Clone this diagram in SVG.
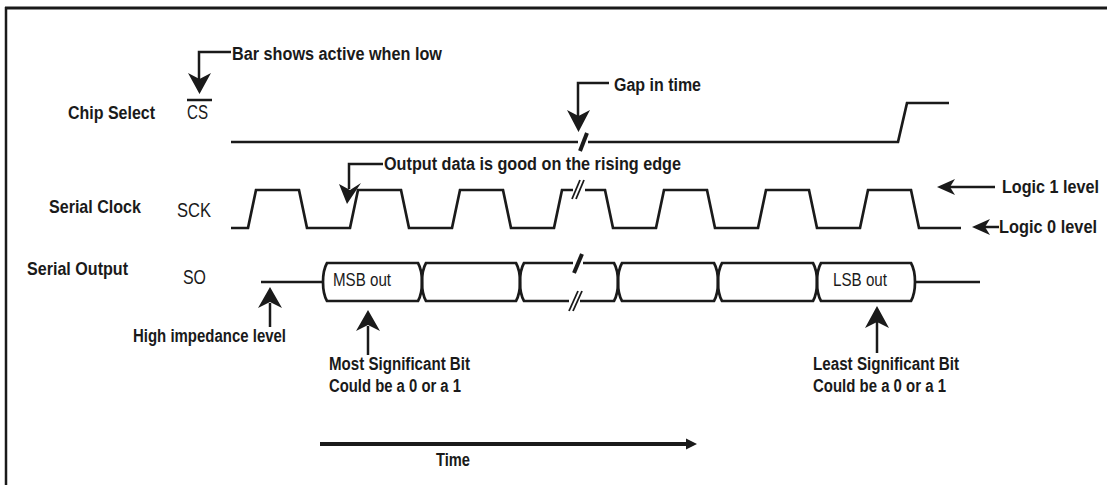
<svg xmlns="http://www.w3.org/2000/svg" width="1107" height="485" viewBox="0 0 1107 485">
<style>
  text { font-family: "Liberation Sans", Arial, sans-serif; fill: #1a1a1a; }
  .lbl { font-weight: bold; font-size: 19px; }
  .ann { font-weight: bold; font-size: 17.5px; }
  .sig { font-weight: normal; font-size: 20px; }
  .dat { font-weight: normal; font-size: 18px; }
  .wave { fill: none; stroke: #1a1a1a; stroke-width: 2.7; stroke-linejoin: miter; }
  .stem { fill: none; stroke: #1a1a1a; stroke-width: 2.5; }
  .head { fill: #1a1a1a; stroke: none; }
  .slash { stroke: #1a1a1a; stroke-width: 4; }
  .dslash { stroke: #1a1a1a; stroke-width: 1.8; }
</style>
<rect width="1107" height="485" fill="#ffffff"/>
<g id="frame">
  <line x1="5" y1="8" x2="1107" y2="8" stroke="#1a1a1a" stroke-width="3"/>
  <line x1="6" y1="7" x2="6" y2="485" stroke="#1a1a1a" stroke-width="2.5"/>
</g>

<g id="labels">
  <text class="lbl" x="68" y="119" textLength="87" lengthAdjust="spacingAndGlyphs">Chip Select</text>
  <text class="lbl" x="49" y="213" textLength="92" lengthAdjust="spacingAndGlyphs">Serial Clock</text>
  <text class="lbl" x="27" y="275" textLength="101" lengthAdjust="spacingAndGlyphs">Serial Output</text>
  <text class="sig" x="187" y="119" textLength="21" lengthAdjust="spacingAndGlyphs">CS</text>
  <line x1="187" y1="100" x2="212" y2="100" stroke="#1a1a1a" stroke-width="2.5"/>
  <text class="sig" x="177" y="217" textLength="34" lengthAdjust="spacingAndGlyphs">SCK</text>
  <text class="sig" x="183" y="284" textLength="23" lengthAdjust="spacingAndGlyphs">SO</text>
</g>

<g id="cs-wave">
  <path class="wave" d="M231,142 H578 M588,142 H898 L907,103 H949"/>
  <line class="slash" x1="587" y1="133" x2="580" y2="151"/>
</g>

<g id="sck-wave">
  <path class="wave" d="M231,228 H248 L256,190 H299 L307,228 H350 L358,190 H401 L409,228 H452 L460,190 H503 L511,228 H554 L562,190 H573 M585,190 H605 L613,228 H656 L664,190 H707 L715,228 H758 L766,190 H809 L817,228 H860 L868,190 H911 L919,228 H961"/>
  <line class="dslash" x1="580" y1="180" x2="572" y2="199"/>
  <line class="dslash" x1="584" y1="180" x2="576" y2="199"/>
</g>

<g id="so-wave">
  <path class="wave" d="M261,282 H323"/>
  <path class="wave" d="M915,282 H980"/>
  <g id="bit-msb">
    <path class="wave" d="M327,263 H418 Q422,270 422,282 Q422,294 418,301 H327 Q323,294 323,282 Q323,270 327,263 Z"/>
    <text class="dat" x="333" y="286" textLength="58" lengthAdjust="spacingAndGlyphs">MSB out</text>
  </g>
  <g id="bit-2">
    <path class="wave" d="M426,263 H516 Q520,270 520,282 Q520,294 516,301 H426 Q422,294 422,282 Q422,270 426,263 Z"/>
  </g>
  <g id="bit-gap">
    <path class="wave" d="M573,263 H524 Q520,270 520,282 Q520,294 524,301 H569"/>
    <path class="wave" d="M583,263 H614 Q618,270 618,282 Q618,294 614,301 H580"/>
    <line class="slash" x1="582" y1="254" x2="574" y2="273"/>
    <line class="dslash" x1="578" y1="291" x2="569" y2="311"/>
    <line class="dslash" x1="582" y1="291" x2="573" y2="311"/>
  </g>
  <g id="bit-4">
    <path class="wave" d="M622,263 H714 Q718,270 718,282 Q718,294 714,301 H622 Q618,294 618,282 Q618,270 622,263 Z"/>
  </g>
  <g id="bit-5">
    <path class="wave" d="M722,263 H813 Q817,270 817,282 Q817,294 813,301 H722 Q718,294 718,282 Q718,270 722,263 Z"/>
  </g>
  <g id="bit-lsb">
    <path class="wave" d="M821,263 H911 Q915,270 915,282 Q915,294 911,301 H821 Q817,294 817,282 Q817,270 821,263 Z"/>
    <text class="dat" x="833" y="286" textLength="54" lengthAdjust="spacingAndGlyphs">LSB out</text>
  </g>
</g>

<g id="connectors">
  <path class="stem" d="M231,52 H199 V80"/>
  <polygon class="head" points="188,73 199.5,79 211,73 199.5,94"/>
  <path class="stem" d="M609,83 H578 V116"/>
  <polygon class="head" points="567,110 578.5,116 590,110 578.5,132"/>
  <path class="stem" d="M383,164 H349 V189"/>
  <polygon class="head" points="339,184 350,190 361,183 347,204"/>
  <path class="stem" d="M995,187 H948"/>
  <polygon class="head" points="937,187 955,179 950,187 955,195"/>
  <path class="stem" d="M999,227 H982"/>
  <polygon class="head" points="972,227 990,219 985,227 990,235"/>
  <path class="stem" d="M270,303 V327"/>
  <polygon class="head" points="258,308 270,302 282,308 270,287"/>
  <path class="stem" d="M368,326 V355"/>
  <polygon class="head" points="356,331 368,325 380,331 368,310"/>
  <path class="stem" d="M877,322 V353"/>
  <polygon class="head" points="865,328 877,322 889,328 877,306"/>
  <line x1="320" y1="444" x2="688" y2="444" stroke="#1a1a1a" stroke-width="4"/>
  <polygon class="head" points="686,438.5 697,444 686,449.5"/>
</g>

<g id="annotations">
  <text class="ann" x="232" y="60" textLength="210" lengthAdjust="spacingAndGlyphs">Bar shows active when low</text>
  <text class="ann" x="614" y="91" textLength="87" lengthAdjust="spacingAndGlyphs">Gap in time</text>
  <text class="ann" x="384" y="170" textLength="297" lengthAdjust="spacingAndGlyphs">Output data is good on the rising edge</text>
  <text class="ann" x="1002" y="193" textLength="97" lengthAdjust="spacingAndGlyphs">Logic 1 level</text>
  <text class="ann" x="999" y="233" textLength="98" lengthAdjust="spacingAndGlyphs">Logic 0 level</text>
  <text class="ann" x="133" y="342" textLength="153" lengthAdjust="spacingAndGlyphs">High impedance level</text>
  <text class="ann" x="329" y="370" textLength="141" lengthAdjust="spacingAndGlyphs">Most Significant Bit</text>
  <text class="ann" x="329" y="392" textLength="132" lengthAdjust="spacingAndGlyphs">Could be a 0 or a 1</text>
  <text class="ann" x="813" y="370" textLength="146" lengthAdjust="spacingAndGlyphs">Least Significant Bit</text>
  <text class="ann" x="813" y="392" textLength="133" lengthAdjust="spacingAndGlyphs">Could be a 0 or a 1</text>
  <text class="ann" x="436" y="466" textLength="34" lengthAdjust="spacingAndGlyphs">Time</text>
</g>
</svg>
